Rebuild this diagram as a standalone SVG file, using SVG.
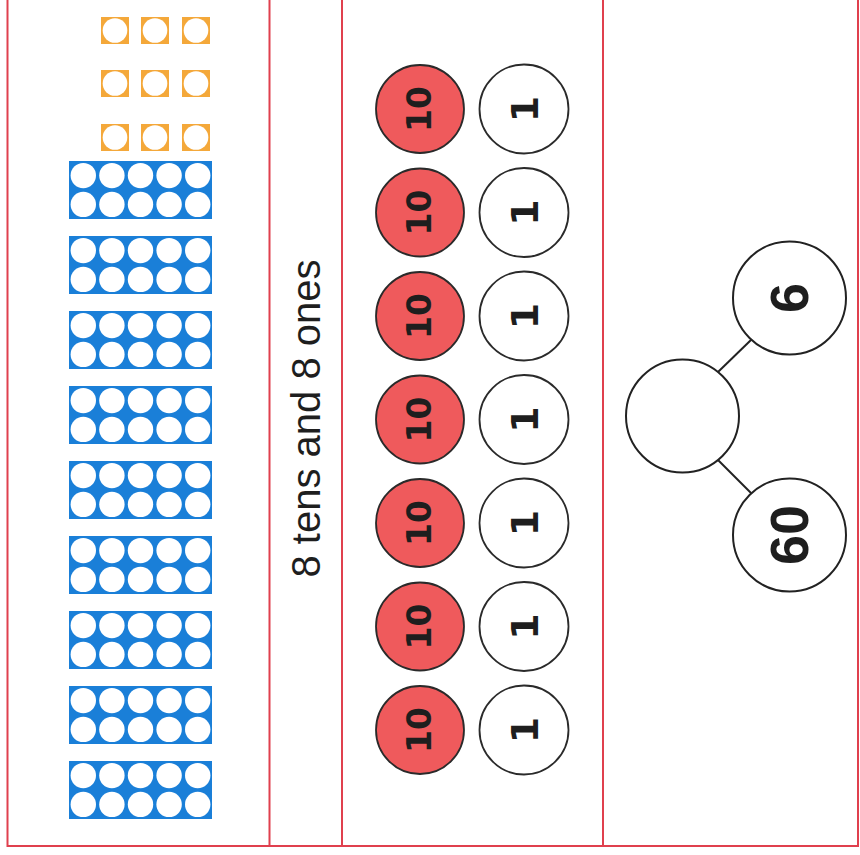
<svg xmlns="http://www.w3.org/2000/svg" xmlns:xlink="http://www.w3.org/1999/xlink" width="860" height="855" viewBox="0 0 860 855">
<style>
.border{fill:none;stroke:#e0404e;stroke-width:2}
.tfbg{fill:#1a7fd8}
.hole{fill:#fff}
.sq{fill:#f4a83a}
.ten{fill:#ef5a5c;stroke:#2a2a2a;stroke-width:1.8}
.one{fill:#fff;stroke:#2a2a2a;stroke-width:1.8}
.num{font-family:"DejaVu Sans",sans-serif;font-weight:bold;fill:#1e1e1e;text-anchor:middle}
.pw{fill:#fff;stroke:#222;stroke-width:2}
.pwt{font-family:"Liberation Sans",Arial,sans-serif;font-weight:bold;font-size:54px;fill:#1e1e1e;text-anchor:middle}
.lbl{font-family:"Liberation Sans",Arial,sans-serif;font-size:40px;fill:#1e1e1e;text-anchor:middle}
.conn{stroke:#222;stroke-width:2;fill:none}
</style>
<defs>
<g id="tenframe">
<rect class="tfbg" x="0" y="0" width="143" height="58"/>
<circle class="hole" cx="14.3" cy="14.6" r="12.7"/><circle class="hole" cx="42.9" cy="14.6" r="12.7"/><circle class="hole" cx="71.5" cy="14.6" r="12.7"/><circle class="hole" cx="100.1" cy="14.6" r="12.7"/><circle class="hole" cx="128.7" cy="14.6" r="12.7"/>
<circle class="hole" cx="14.3" cy="43.4" r="12.7"/><circle class="hole" cx="42.9" cy="43.4" r="12.7"/><circle class="hole" cx="71.5" cy="43.4" r="12.7"/><circle class="hole" cx="100.1" cy="43.4" r="12.7"/><circle class="hole" cx="128.7" cy="43.4" r="12.7"/>
</g>
<g id="onesq">
<rect class="sq" x="0" y="0" width="28" height="27"/>
<circle class="hole" cx="14" cy="13.5" r="12.3"/>
</g>
</defs>
<rect width="860" height="855" fill="#fff"/>
<g id="frame">
<path class="border" d="M7.5,-5 V846 H858 V-5"/>
<line class="border" x1="269.5" y1="-5" x2="269.5" y2="846"/>
<line class="border" x1="342" y1="-5" x2="342" y2="846"/>
<line class="border" x1="603" y1="-5" x2="603" y2="846"/>
</g>
<g id="ones-squares">
<use xlink:href="#onesq" x="101" y="17"/><use xlink:href="#onesq" x="141" y="17"/><use xlink:href="#onesq" x="182" y="17"/>
<use xlink:href="#onesq" x="101" y="70"/><use xlink:href="#onesq" x="141" y="70"/><use xlink:href="#onesq" x="182" y="70"/>
<use xlink:href="#onesq" x="101" y="124"/><use xlink:href="#onesq" x="141" y="124"/><use xlink:href="#onesq" x="182" y="124"/>
</g>
<g id="ten-frames">
<use xlink:href="#tenframe" x="69" y="161"/>
<use xlink:href="#tenframe" x="69" y="236"/>
<use xlink:href="#tenframe" x="69" y="311"/>
<use xlink:href="#tenframe" x="69" y="386"/>
<use xlink:href="#tenframe" x="69" y="461"/>
<use xlink:href="#tenframe" x="69" y="536"/>
<use xlink:href="#tenframe" x="69" y="611"/>
<use xlink:href="#tenframe" x="69" y="686"/>
<use xlink:href="#tenframe" x="69" y="761"/>
</g>
<g id="label">
<text class="lbl" transform="translate(320,418.5) rotate(-90)">8 tens and 8 ones</text>
</g>
<g id="counters">
<g id="row1"><circle class="ten" cx="420" cy="109" r="44"/><text class="num" font-size="33" transform="translate(430.5,109) rotate(-90)">10</text><circle class="one" cx="524" cy="109" r="44.5"/><text class="num" font-size="38" transform="translate(538.4,109) rotate(-90)">1</text></g>
<g id="row2"><circle class="ten" cx="420" cy="212.5" r="44"/><text class="num" font-size="33" transform="translate(430.5,212.5) rotate(-90)">10</text><circle class="one" cx="524" cy="212.5" r="44.5"/><text class="num" font-size="38" transform="translate(538.4,212.5) rotate(-90)">1</text></g>
<g id="row3"><circle class="ten" cx="420" cy="316" r="44"/><text class="num" font-size="33" transform="translate(430.5,316) rotate(-90)">10</text><circle class="one" cx="524" cy="316" r="44.5"/><text class="num" font-size="38" transform="translate(538.4,316) rotate(-90)">1</text></g>
<g id="row4"><circle class="ten" cx="420" cy="419.5" r="44"/><text class="num" font-size="33" transform="translate(430.5,419.5) rotate(-90)">10</text><circle class="one" cx="524" cy="419.5" r="44.5"/><text class="num" font-size="38" transform="translate(538.4,419.5) rotate(-90)">1</text></g>
<g id="row5"><circle class="ten" cx="420" cy="523" r="44"/><text class="num" font-size="33" transform="translate(430.5,523) rotate(-90)">10</text><circle class="one" cx="524" cy="523" r="44.5"/><text class="num" font-size="38" transform="translate(538.4,523) rotate(-90)">1</text></g>
<g id="row6"><circle class="ten" cx="420" cy="626.5" r="44"/><text class="num" font-size="33" transform="translate(430.5,626.5) rotate(-90)">10</text><circle class="one" cx="524" cy="626.5" r="44.5"/><text class="num" font-size="38" transform="translate(538.4,626.5) rotate(-90)">1</text></g>
<g id="row7"><circle class="ten" cx="420" cy="730" r="44"/><text class="num" font-size="33" transform="translate(430.5,730) rotate(-90)">10</text><circle class="one" cx="524" cy="730" r="44.5"/><text class="num" font-size="38" transform="translate(538.4,730) rotate(-90)">1</text></g>
</g>
<g id="connectors">
<line class="conn" x1="718" y1="372" x2="752" y2="339"/>
<line class="conn" x1="718" y1="460" x2="752" y2="494"/>
</g>
<g id="whole"><circle class="pw" cx="682.5" cy="416" r="56.5"/></g>
<g id="part-6"><circle class="pw" cx="789.5" cy="298" r="56.5"/><text class="pwt" transform="translate(807.5,298) rotate(-90)">6</text></g>
<g id="part-60"><circle class="pw" cx="789.5" cy="535" r="56.5"/><text class="pwt" transform="translate(807.5,535) rotate(-90)">60</text></g>
</svg>
